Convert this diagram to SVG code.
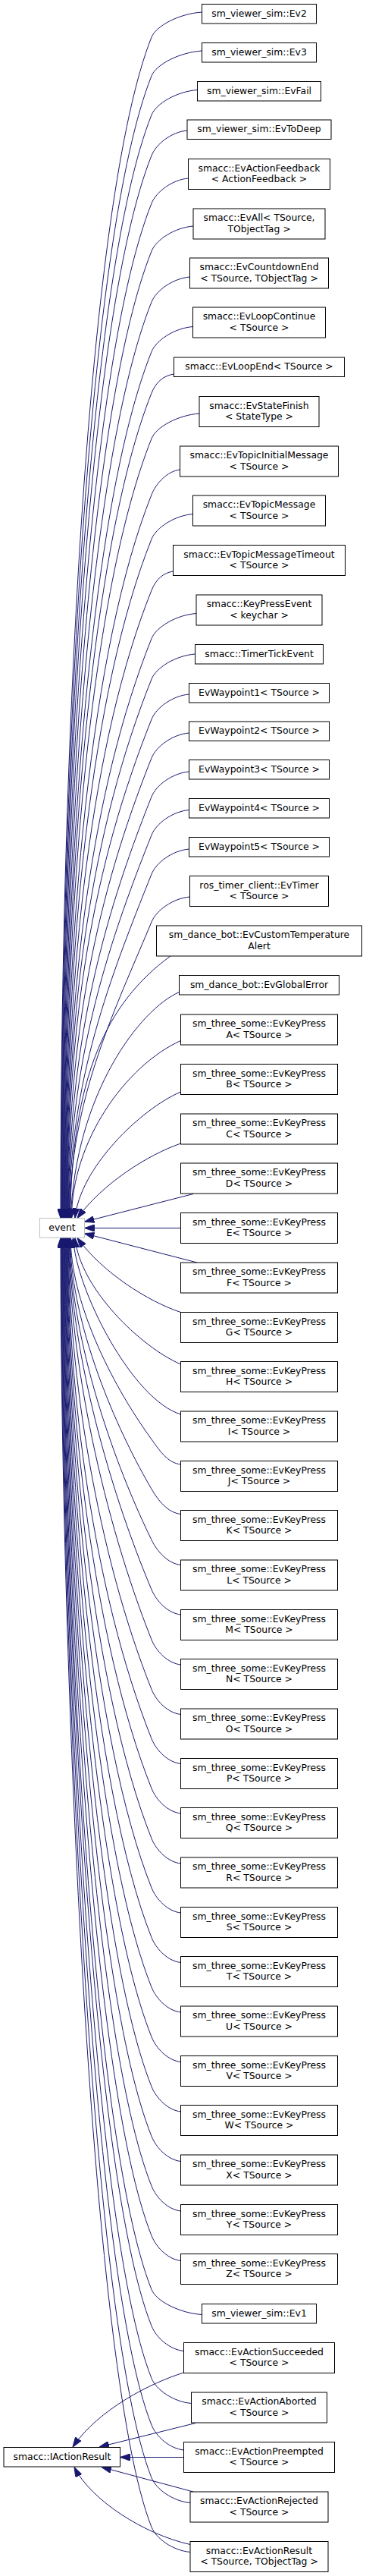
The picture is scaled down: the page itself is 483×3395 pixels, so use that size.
<svg xmlns="http://www.w3.org/2000/svg" width="483" height="3395" viewBox="0 0 483 3395">
<style>
.n rect{fill:#fff;stroke:#000;stroke-width:1}
.g rect{fill:#fff;stroke:#bfbfbf;stroke-width:1}
text{font-family:"DejaVu Sans","Liberation Sans",sans-serif;font-size:12.4px;text-anchor:middle;fill:#000}
.e path{fill:none;stroke:#191970;stroke-width:1;marker-end:url(#ah)}
</style>
<defs>
<marker id="ah" viewBox="0 0 13 9" refX="13" refY="4.5" markerWidth="13" markerHeight="9" markerUnits="userSpaceOnUse" orient="auto">
<path d="M0,0 L13,4.5 L0,9 z" fill="#191970" stroke="#191970" stroke-width="1"/>
</marker>
</defs>
<rect width="483" height="3395" fill="#fff"/>
<g id="connectors" class="e">
<path d="M266.5,16 C236.6,18 206,34 200,49 C116,259 80,983 80,1605.5"/>
<path d="M266.5,67 C236.6,69 206,85 200,100 C116.4,309 80.6,1003 80.6,1605.5"/>
<path d="M260.5,118.5 C233.3,120.5 206,136.5 200,151.5 C116.8,359.4 81.2,1024 81.2,1605.5"/>
<path d="M247,172 C225.8,174 206,190 200,205 C117.2,412 81.8,1045 81.8,1605.5"/>
<path d="M248.5,235 C226.7,237 206,253 200,268 C117.7,474 82.4,1070 82.4,1605.5"/>
<path d="M255,298 C230.3,300 206,316 200,331 C118.1,536 83,1096 83,1605.5"/>
<path d="M250.5,365 C227.8,367 206,383 200,398 C118.5,602 83.6,1122 83.6,1605.5"/>
<path d="M254.5,430.5 C230,432.5 206,448.5 200,463.5 C118.9,666 84.2,1149 84.2,1605.5"/>
<path d="M229.5,493 C216.2,495 206,503 200,518 C119.4,720 84.8,1170 84.8,1605.5"/>
<path d="M263,545 C234.7,547 206,563 200,578 C119.8,779 85.4,1194 85.4,1605.5"/>
<path d="M237.5,619 C220.6,621 206,637 200,652 C120.2,851.5 86,1224 86,1605.5"/>
<path d="M254.5,677.5 C230,679.5 206,695.5 200,710.5 C120.6,909 86.6,1247.5 86.6,1605.5"/>
<path d="M228.5,753 C215.7,755 206,763 200,778 C121,975 87.2,1274.5 87.2,1605.5"/>
<path d="M259,808.5 C232.5,810.5 206,826.5 200,841.5 C121.5,1038 87.8,1300 87.8,1605.5"/>
<path d="M257.5,862 C231.6,864 206,880 200,895 C121.9,1090 88.4,1321 88.4,1605.5"/>
<path d="M249.5,915 C227.2,917 206,933 200,948 C122.3,1142 89,1342.5 89,1605.5"/>
<path d="M249.5,966 C227.2,968 206,984 200,999 C127.2,1181 89.6,1363 89.6,1605.5"/>
<path d="M249.5,1017 C227.2,1019 206,1035 200,1050 C133.3,1216.7 90.2,1383.3 90.2,1605.5"/>
<path d="M249.5,1067.5 C227.2,1069.5 206,1085.5 200,1100.5 C139.4,1252 90.8,1403.5 90.8,1605.5"/>
<path d="M249.5,1119 C227.2,1121 206,1137 200,1152 C145.6,1288 91.4,1424 91.4,1605.5"/>
<path d="M250.5,1182 C227.8,1184 206.2,1200 200,1215 C151.4,1332 92,1449 92,1605.5"/>
<path d="M225,1260 C140,1322 95,1420 92.6,1605.5"/>
<path d="M236.5,1307.5 C185,1330 100,1440 93.2,1605.5"/>
<path d="M238.5,1371.5 C165,1405 94.5,1505 94.5,1605.5"/>
<path d="M238.5,1439 C185,1462 105,1540 99,1605.5"/>
<path d="M238.5,1507 C195,1522 135,1560 102,1605.5"/>
<path d="M255,1573.5 L111.5,1610.2"/>
<path d="M238.5,1618.5 L111.5,1618.5"/>
<path d="M260,1664 L111.5,1625.6"/>
<path d="M238.5,1729.5 C195,1715 135,1677 102,1631.5"/>
<path d="M238.5,1798 C185,1775 105,1697 99,1631.5"/>
<path d="M238.5,1864 C175,1845 100,1700 96.5,1631.5"/>
<path d="M238.5,1930 C221.2,1928 210.9,1912 200,1897 C142.3,1817.4 93.2,1711.2 93.2,1631.5"/>
<path d="M238.5,1995.5 C221.2,1993.5 208.8,1977.5 200,1962.5 C142,1863.2 92.6,1730.8 92.6,1631.5"/>
<path d="M238.5,2062.5 C221.2,2060.5 207.3,2044.5 200,2029.5 C141.7,1910.1 92,1750.9 92,1631.5"/>
<path d="M238.5,2128 C221.2,2126 206.3,2110 200,2095 C141.3,1956 91.4,1770.5 91.4,1631.5"/>
<path d="M238.5,2194 C221.2,2192 206,2176 200,2161 C136.5,2002 90.8,1790 90.8,1631.5"/>
<path d="M238.5,2259.5 C221.2,2257.5 206,2241.5 200,2226.5 C128.6,2048 90.2,1810 90.2,1631.5"/>
<path d="M238.5,2324.5 C221.2,2322.5 206,2306.5 200,2291.5 C122.7,2098.3 89.6,1829.5 89.6,1631.5"/>
<path d="M238.5,2390 C221.2,2388 206,2372 200,2357 C122.3,2162.8 89,1849.2 89,1631.5"/>
<path d="M238.5,2456 C221.2,2454 206,2438 200,2423 C121.9,2227.7 88.4,1869 88.4,1631.5"/>
<path d="M238.5,2521 C221.2,2519 206,2503 200,2488 C121.5,2291.7 87.8,1888.5 87.8,1631.5"/>
<path d="M238.5,2586.5 C221.2,2584.5 206,2568.5 200,2553.5 C121,2356.1 87.2,1908.1 87.2,1631.5"/>
<path d="M238.5,2652 C221.2,2650 206,2634 200,2619 C120.6,2420.6 86.6,1927.8 86.6,1631.5"/>
<path d="M238.5,2717.5 C221.2,2715.5 206,2699.5 200,2684.5 C120.2,2485 86,1947.4 86,1631.5"/>
<path d="M238.5,2783 C221.2,2781 206,2765 200,2750 C119.8,2549.5 85.4,1967 85.4,1631.5"/>
<path d="M238.5,2848.5 C221.2,2846.5 206,2830.5 200,2815.5 C119.4,2613.9 84.8,1986.7 84.8,1631.5"/>
<path d="M238.5,2914 C221.2,2912 206,2896 200,2881 C118.9,2678.4 84.2,2006.4 84.2,1631.5"/>
<path d="M238.5,2979.5 C221.2,2977.5 206,2961.5 200,2946.5 C118.5,2742.8 83.6,2026 83.6,1631.5"/>
<path d="M266.5,3050.5 C236.6,3048.5 206,3032.5 200,3017.5 C118.1,2812.8 83,2047.3 83,1631.5"/>
<path d="M242.5,3098.5 C223.4,3096.5 206,3080.5 200,3065.5 C117.7,2859.7 82.4,2061.7 82.4,1631.5"/>
<path d="M252.5,3167.5 C228.9,3165.5 206,3149.5 200,3134.5 C117.3,2927.7 81.8,2082.4 81.8,1631.5"/>
<path d="M242.5,3229 C223.4,3227 206,3211 200,3196 C116.8,2988.1 81.2,2100.9 81.2,1631.5"/>
<path d="M251,3298.5 C228,3296.5 206,3280.5 200,3265.5 C116.4,3056.5 80.6,2121.7 80.6,1631.5"/>
<path d="M251,3363.5 C228,3361.5 206,3345.5 200,3330.5 C116,3120.5 80,2141.2 80,1631.5"/>
<path d="M242.5,3127 C200,3140 130,3175 96,3225"/>
<path d="M258,3193.5 L131,3225"/>
<path d="M242.5,3238.5 L158.5,3238.5"/>
<path d="M255,3284 L134,3251.5"/>
<path d="M251,3353.5 C190,3340 120,3295 98,3251.5"/>
</g>
<g id="n_event" class="g"><rect x="52.5" y="1605.5" width="59" height="25.5"/><text x="82" y="1621.8">event</text></g>
<g id="n_iactionresult" class="n"><rect x="5" y="3225.5" width="153.5" height="25.5"/><text x="82" y="3241.8">smacc::IActionResult</text></g>
<g id="n_ev2" class="n"><rect x="266.5" y="5.5" width="151" height="25.5"/><text x="342" y="21.8">sm_viewer_sim::Ev2</text></g>
<g id="n_ev3" class="n"><rect x="266.5" y="56.5" width="151" height="25.5"/><text x="342" y="72.8">sm_viewer_sim::Ev3</text></g>
<g id="n_evfail" class="n"><rect x="260.5" y="107.5" width="163" height="25.5"/><text x="342" y="123.8">sm_viewer_sim::EvFail</text></g>
<g id="n_evtodeep" class="n"><rect x="247" y="158" width="190" height="25.5"/><text x="342" y="174.3">sm_viewer_sim::EvToDeep</text></g>
<g id="n_evactionfeedback" class="n"><rect x="248.5" y="209.5" width="187" height="40"/><text x="342" y="225.8">smacc::EvActionFeedback</text><text x="342" y="240.2">&lt; ActionFeedback &gt;</text></g>
<g id="n_evall" class="n"><rect x="255" y="275" width="174" height="40"/><text x="342" y="291.3">smacc::EvAll&lt; TSource,</text><text x="342" y="305.7">TObjectTag &gt;</text></g>
<g id="n_evcountdownend" class="n"><rect x="250.5" y="340" width="183" height="40"/><text x="342" y="356.3">smacc::EvCountdownEnd</text><text x="342" y="370.7">&lt; TSource, TObjectTag &gt;</text></g>
<g id="n_evloopcontinue" class="n"><rect x="254.5" y="405" width="175" height="40"/><text x="342" y="421.3">smacc::EvLoopContinue</text><text x="342" y="435.7">&lt; TSource &gt;</text></g>
<g id="n_evloopend" class="n"><rect x="229.5" y="471" width="225" height="25.5"/><text x="342" y="487.3">smacc::EvLoopEnd&lt; TSource &gt;</text></g>
<g id="n_evstatefinish" class="n"><rect x="263" y="522.5" width="158" height="40"/><text x="342" y="538.8">smacc::EvStateFinish</text><text x="342" y="553.2">&lt; StateType &gt;</text></g>
<g id="n_evtopicinitialmessage" class="n"><rect x="237.5" y="588" width="209" height="40"/><text x="342" y="604.3">smacc::EvTopicInitialMessage</text><text x="342" y="618.7">&lt; TSource &gt;</text></g>
<g id="n_evtopicmessage" class="n"><rect x="254.5" y="653" width="175" height="40"/><text x="342" y="669.3">smacc::EvTopicMessage</text><text x="342" y="683.7">&lt; TSource &gt;</text></g>
<g id="n_evtopicmessagetimeout" class="n"><rect x="228.5" y="718.5" width="227" height="40"/><text x="342" y="734.8">smacc::EvTopicMessageTimeout</text><text x="342" y="749.2">&lt; TSource &gt;</text></g>
<g id="n_keypressevent" class="n"><rect x="259" y="784" width="166" height="40"/><text x="342" y="800.3">smacc::KeyPressEvent</text><text x="342" y="814.7">&lt; keychar &gt;</text></g>
<g id="n_timertickevent" class="n"><rect x="257.5" y="849.5" width="169" height="25.5"/><text x="342" y="865.8">smacc::TimerTickEvent</text></g>
<g id="n_evwaypoint1" class="n"><rect x="249.5" y="900.5" width="185" height="25.5"/><text x="342" y="916.8">EvWaypoint1&lt; TSource &gt;</text></g>
<g id="n_evwaypoint2" class="n"><rect x="249.5" y="951" width="185" height="25.5"/><text x="342" y="967.3">EvWaypoint2&lt; TSource &gt;</text></g>
<g id="n_evwaypoint3" class="n"><rect x="249.5" y="1001.5" width="185" height="25.5"/><text x="342" y="1017.8">EvWaypoint3&lt; TSource &gt;</text></g>
<g id="n_evwaypoint4" class="n"><rect x="249.5" y="1052.5" width="185" height="25.5"/><text x="342" y="1068.8">EvWaypoint4&lt; TSource &gt;</text></g>
<g id="n_evwaypoint5" class="n"><rect x="249.5" y="1103.5" width="185" height="25.5"/><text x="342" y="1119.8">EvWaypoint5&lt; TSource &gt;</text></g>
<g id="n_evtimer" class="n"><rect x="250.5" y="1154.5" width="183" height="40"/><text x="342" y="1170.8">ros_timer_client::EvTimer</text><text x="342" y="1185.2">&lt; TSource &gt;</text></g>
<g id="n_evcustomtemperaturealert" class="n"><rect x="206.5" y="1220" width="271" height="40"/><text x="342" y="1236.3">sm_dance_bot::EvCustomTemperature</text><text x="342" y="1250.7">Alert</text></g>
<g id="n_evglobalerror" class="n"><rect x="236.5" y="1285.5" width="211" height="25.5"/><text x="342" y="1301.8">sm_dance_bot::EvGlobalError</text></g>
<g id="n_keypress_a" class="n"><rect x="238.5" y="1337" width="207" height="40"/><text x="342" y="1353.3">sm_three_some::EvKeyPress</text><text x="342" y="1367.7">A&lt; TSource &gt;</text></g>
<g id="n_keypress_b" class="n"><rect x="238.5" y="1402.5" width="207" height="40"/><text x="342" y="1418.8">sm_three_some::EvKeyPress</text><text x="342" y="1433.2">B&lt; TSource &gt;</text></g>
<g id="n_keypress_c" class="n"><rect x="238.5" y="1468" width="207" height="40"/><text x="342" y="1484.3">sm_three_some::EvKeyPress</text><text x="342" y="1498.7">C&lt; TSource &gt;</text></g>
<g id="n_keypress_d" class="n"><rect x="238.5" y="1533" width="207" height="40"/><text x="342" y="1549.3">sm_three_some::EvKeyPress</text><text x="342" y="1563.7">D&lt; TSource &gt;</text></g>
<g id="n_keypress_e" class="n"><rect x="238.5" y="1598.5" width="207" height="40"/><text x="342" y="1614.8">sm_three_some::EvKeyPress</text><text x="342" y="1629.2">E&lt; TSource &gt;</text></g>
<g id="n_keypress_f" class="n"><rect x="238.5" y="1664" width="207" height="40"/><text x="342" y="1680.3">sm_three_some::EvKeyPress</text><text x="342" y="1694.7">F&lt; TSource &gt;</text></g>
<g id="n_keypress_g" class="n"><rect x="238.5" y="1729.5" width="207" height="40"/><text x="342" y="1745.8">sm_three_some::EvKeyPress</text><text x="342" y="1760.2">G&lt; TSource &gt;</text></g>
<g id="n_keypress_h" class="n"><rect x="238.5" y="1794.5" width="207" height="40"/><text x="342" y="1810.8">sm_three_some::EvKeyPress</text><text x="342" y="1825.2">H&lt; TSource &gt;</text></g>
<g id="n_keypress_i" class="n"><rect x="238.5" y="1860" width="207" height="40"/><text x="342" y="1876.3">sm_three_some::EvKeyPress</text><text x="342" y="1890.7">I&lt; TSource &gt;</text></g>
<g id="n_keypress_j" class="n"><rect x="238.5" y="1925.5" width="207" height="40"/><text x="342" y="1941.8">sm_three_some::EvKeyPress</text><text x="342" y="1956.2">J&lt; TSource &gt;</text></g>
<g id="n_keypress_k" class="n"><rect x="238.5" y="1990.5" width="207" height="40"/><text x="342" y="2006.8">sm_three_some::EvKeyPress</text><text x="342" y="2021.2">K&lt; TSource &gt;</text></g>
<g id="n_keypress_l" class="n"><rect x="238.5" y="2056" width="207" height="40"/><text x="342" y="2072.3">sm_three_some::EvKeyPress</text><text x="342" y="2086.7">L&lt; TSource &gt;</text></g>
<g id="n_keypress_m" class="n"><rect x="238.5" y="2121.5" width="207" height="40"/><text x="342" y="2137.8">sm_three_some::EvKeyPress</text><text x="342" y="2152.2">M&lt; TSource &gt;</text></g>
<g id="n_keypress_n" class="n"><rect x="238.5" y="2186.5" width="207" height="40"/><text x="342" y="2202.8">sm_three_some::EvKeyPress</text><text x="342" y="2217.2">N&lt; TSource &gt;</text></g>
<g id="n_keypress_o" class="n"><rect x="238.5" y="2252" width="207" height="40"/><text x="342" y="2268.3">sm_three_some::EvKeyPress</text><text x="342" y="2282.7">O&lt; TSource &gt;</text></g>
<g id="n_keypress_p" class="n"><rect x="238.5" y="2317.5" width="207" height="40"/><text x="342" y="2333.8">sm_three_some::EvKeyPress</text><text x="342" y="2348.2">P&lt; TSource &gt;</text></g>
<g id="n_keypress_q" class="n"><rect x="238.5" y="2382.5" width="207" height="40"/><text x="342" y="2398.8">sm_three_some::EvKeyPress</text><text x="342" y="2413.2">Q&lt; TSource &gt;</text></g>
<g id="n_keypress_r" class="n"><rect x="238.5" y="2448" width="207" height="40"/><text x="342" y="2464.3">sm_three_some::EvKeyPress</text><text x="342" y="2478.7">R&lt; TSource &gt;</text></g>
<g id="n_keypress_s" class="n"><rect x="238.5" y="2513.5" width="207" height="40"/><text x="342" y="2529.8">sm_three_some::EvKeyPress</text><text x="342" y="2544.2">S&lt; TSource &gt;</text></g>
<g id="n_keypress_t" class="n"><rect x="238.5" y="2578.5" width="207" height="40"/><text x="342" y="2594.8">sm_three_some::EvKeyPress</text><text x="342" y="2609.2">T&lt; TSource &gt;</text></g>
<g id="n_keypress_u" class="n"><rect x="238.5" y="2644" width="207" height="40"/><text x="342" y="2660.3">sm_three_some::EvKeyPress</text><text x="342" y="2674.7">U&lt; TSource &gt;</text></g>
<g id="n_keypress_v" class="n"><rect x="238.5" y="2709.5" width="207" height="40"/><text x="342" y="2725.8">sm_three_some::EvKeyPress</text><text x="342" y="2740.2">V&lt; TSource &gt;</text></g>
<g id="n_keypress_w" class="n"><rect x="238.5" y="2774.5" width="207" height="40"/><text x="342" y="2790.8">sm_three_some::EvKeyPress</text><text x="342" y="2805.2">W&lt; TSource &gt;</text></g>
<g id="n_keypress_x" class="n"><rect x="238.5" y="2840" width="207" height="40"/><text x="342" y="2856.3">sm_three_some::EvKeyPress</text><text x="342" y="2870.7">X&lt; TSource &gt;</text></g>
<g id="n_keypress_y" class="n"><rect x="238.5" y="2905.5" width="207" height="40"/><text x="342" y="2921.8">sm_three_some::EvKeyPress</text><text x="342" y="2936.2">Y&lt; TSource &gt;</text></g>
<g id="n_keypress_z" class="n"><rect x="238.5" y="2970.5" width="207" height="40"/><text x="342" y="2986.8">sm_three_some::EvKeyPress</text><text x="342" y="3001.2">Z&lt; TSource &gt;</text></g>
<g id="n_ev1" class="n"><rect x="266.5" y="3036.5" width="151" height="25.5"/><text x="342" y="3052.8">sm_viewer_sim::Ev1</text></g>
<g id="n_evactionsucceeded" class="n"><rect x="242.5" y="3087.5" width="199" height="40"/><text x="342" y="3103.8">smacc::EvActionSucceeded</text><text x="342" y="3118.2">&lt; TSource &gt;</text></g>
<g id="n_evactionaborted" class="n"><rect x="252.5" y="3153" width="179" height="40"/><text x="342" y="3169.3">smacc::EvActionAborted</text><text x="342" y="3183.7">&lt; TSource &gt;</text></g>
<g id="n_evactionpreempted" class="n"><rect x="242.5" y="3218.5" width="199" height="40"/><text x="342" y="3234.8">smacc::EvActionPreempted</text><text x="342" y="3249.2">&lt; TSource &gt;</text></g>
<g id="n_evactionrejected" class="n"><rect x="251" y="3284" width="182" height="40"/><text x="342" y="3300.3">smacc::EvActionRejected</text><text x="342" y="3314.7">&lt; TSource &gt;</text></g>
<g id="n_evactionresult" class="n"><rect x="251" y="3349.5" width="182" height="40"/><text x="342" y="3365.8">smacc::EvActionResult</text><text x="342" y="3380.2">&lt; TSource, TObjectTag &gt;</text></g>
</svg>
